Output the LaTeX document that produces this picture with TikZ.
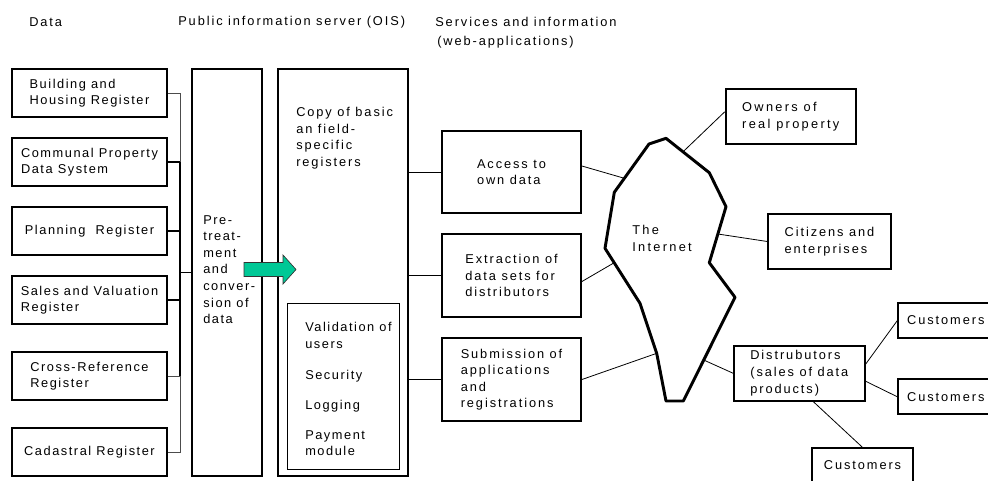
\documentclass[tikz,border=0pt]{standalone}
\usepackage{fontspec}
\setmainfont{Liberation Sans}[LetterSpace=15]
\newfontfamily\narrowls{Liberation Sans}[LetterSpace=12]
\newfontfamily\widels{Liberation Sans}[LetterSpace=18]
\usetikzlibrary{calc}
\definecolor{arrowgreen}{RGB}{0,200,150}
\begin{document}
\begin{tikzpicture}[x=0.75pt,y=-0.75pt,
  every node/.style={font=\fontsize{9.6}{12.4}\selectfont},
  grpA/.style={font=\narrowls\fontsize{9.6}{12.4}\selectfont},
  grpC/.style={font=\widels\fontsize{9.6}{12.4}\selectfont},
  wh/.style 2 args={minimum width=#1*0.75pt, minimum height=#2*0.75pt},
  box/.style={draw, line width=1.4pt, inner sep=0pt, align=left},
  thinbox/.style={draw, line width=0.7pt, inner sep=0pt},
  txt/.style={inner sep=0pt, align=left},
  conn/.style={line width=0.6pt},
  busthin/.style={line width=0.6pt, draw=black!70},
  busthick/.style={line width=1.2pt},
  cloud/.style={line width=2.2pt, line join=round}]
\useasboundingbox (0,0) rectangle (988,480);
\clip (0,0) rectangle (988,480);

% headers
\node[txt, anchor=west] (h1) at (29,22) {Data};
\node[txt, anchor=west] (h2) at (178,22) {Public information server (OIS)};
\node[txt, anchor=west] (h3) at (435,22) {Services and information};
\node[txt, anchor=west] (h4) at (437,42) {(web-applications)};

% data boxes
\node[box, grpA, wh={155}{48}] (b1) at (89.5,93) {Building and\\Housing Register};
\node[box, grpA, wh={155}{48}] (b2) at (89.5,162) {Communal Property\\Data System};
\node[box, grpA, wh={155}{48}] (b3) at (89.5,231) {Planning\ \ Register};
\node[box, grpA, wh={155}{48}] (b4) at (89.5,300) {Sales and Valuation\\Register};
\node[box, grpA, wh={155}{48}] (b5) at (89.5,376) {Cross-Reference\\Register};
\node[box, grpA, wh={155}{48}] (b6) at (89.5,452) {Cadastral Register};

% bus
\coordinate (bt) at (180,93);
\coordinate (bb) at (180,452);
\coordinate (bm1) at (180,162);
\coordinate (bm2) at (180,376);
\draw[busthin] (b1.east) -- (bt) -- (bm1);
\draw[busthick] (bm1) -- (bm2);
\draw[busthin] (bm2) -- (bb) -- (b6.east);
\draw[busthick] (b2.east) -- (bm1);
\draw[busthick] (b3.east) -- (b3.east -| bt);
\draw[busthick] (b4.east) -- (b4.east -| bt);
\draw[busthin] (b5.east) -- (bm2);

% pretreatment
\node[box, wh={70}{407}] (pt) at (227,272.5) {};
\draw[busthick] (pt.west) -- (pt.west -| bt);
\node[txt, grpA, anchor=north west] (ptt) at (203,215.3) {Pre-\\treat-\\ment\\and\\conver-\\sion of\\data};

% OIS
\node[box, wh={130}{407}] (ois) at (343,272.5) {};
\node[txt, anchor=north west] (oist) at (296,107.3) {Copy of basic\\an field-\\specific\\registers};
\node[thinbox, wh={112}{166}] (inner) at (343,386) {};
\node[txt, grpA, anchor=north west] (innert) at (305,322.3) {Validation of\\users\\[10.6pt]Security\\[10.2pt]Logging\\[10.2pt]Payment\\module};

% green arrow
\filldraw[fill=arrowgreen, draw=black!80, line width=0.5pt]
  (244,262.5) -- (283,262.5) -- (283,255) -- (296,269.5) -- (283,284) -- (283,276.5) -- (244,276.5) -- cycle;

% services
\node[box, wh={139}{82}] (acc) at (511.5,172) {Access to\\own data};
\node[box, wh={139}{83}] (ext) at (511.5,275.5) {Extraction of\\data sets for\\distributors};
\node[box, wh={139}{83}] (sub) at (511.5,379.5) {Submission of\\applications\\and\\registrations};
\draw[conn] (acc.west) -- (acc.west -| ois.east);
\draw[conn] (ext.west) -- (ext.west -| ois.east);
\draw[conn] (sub.west) -- (sub.west -| ois.east);

% internet
\draw[cloud] (666,138.3) -- (709.3,172.7) -- (726,206.7) -- (709.3,262.7) -- (735,297.3)
  -- (683.3,401) -- (666,401) -- (656.7,353.3) -- (640,303.3) -- (605,248.3)
  -- (614.3,192.3) -- (649,144) -- cycle;
\node[txt, grpC, anchor=north west] (inet) at (632,225.3) {The\\Internet};
\coordinate (i1) at (624.4,178.3);
\coordinate (i2) at (614.2,262.7);
\coordinate (i3) at (656.7,353.3);
\coordinate (i4) at (683,151.8);
\coordinate (i5) at (717.9,234);
\coordinate (i6) at (703.7,360);
\draw[conn] ($(acc.east)+(0,-6)$) -- (i1);
\draw[conn] ($(ext.east)+(0,6)$) -- (i2);
\draw[conn] (sub.east) -- (i3);

% right side
\node[box, grpC, wh={130.3}{55}] (own) at (790.8,116.8) {Owners of\\real property};
\node[box, wh={122.4}{55}] (cit) at (829.5,241.5) {Citizens and\\enterprises};
\node[box, wh={130.7}{55}] (dist) at (799.3,373.2) {Distrubutors\\(sales of data\\products)};
\node[box, wh={95}{34.4}] (c1) at (945.8,320.5) {Customers};
\node[box, wh={95}{35}] (c2) at (945.8,396.8) {Customers};
\node[box, wh={101.6}{34.4}] (c3) at (862.5,465.5) {Customers};
\draw[conn] (i4) -- ($(own.west)+(0,-5)$);
\draw[conn] (i5) -- (cit.west);
\draw[conn] (i6) -- (dist.west);
\draw[conn] ($(dist.east)+(0,-9)$) -- (c1.west);
\draw[conn] ($(dist.east)+(0,8)$) -- (c2.west);
\draw[conn] ($(dist.south)+(14,0)$) -- (c3.north);
\end{tikzpicture}
\end{document}
